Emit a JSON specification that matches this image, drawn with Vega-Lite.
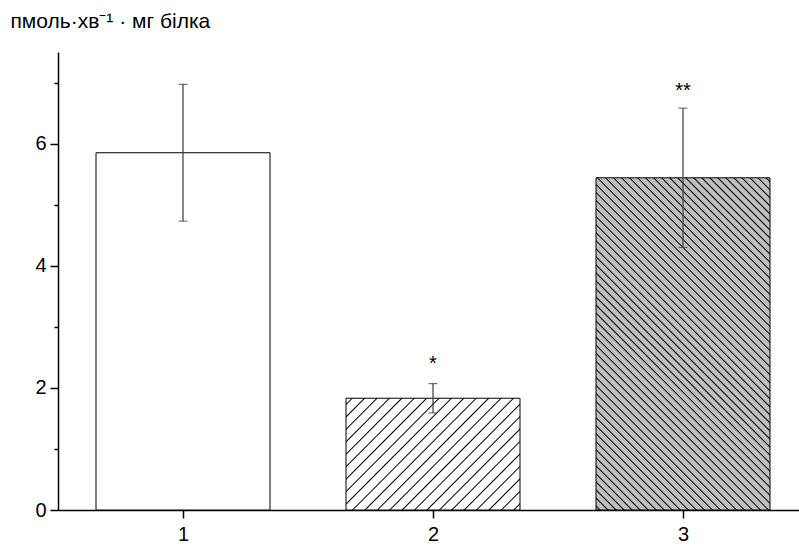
{
  "$schema": "https://vega.github.io/schema/vega-lite/v6.json",
  "width": 741,
  "height": 458,
  "autosize": {"type": "none"},
  "padding": {"left": 58, "top": 52, "right": 0, "bottom": 40},
  "background": "white",
  "config": {"view": {"stroke": null}, "font": "Liberation Sans"},
  "data": {"values": [
    {"group": 1, "mean": 5.85, "lo": 4.73, "hi": 6.97, "star": null, "starY": null},
    {"group": 2, "mean": 1.83, "lo": 1.59, "hi": 2.07, "star": "*", "starY": 2.3},
    {"group": 3, "mean": 5.44, "lo": 4.30, "hi": 6.58, "star": "**", "starY": 6.76}
  ]},
  "encoding": {
    "x": {"field": "group", "type": "quantitative", "scale": {"domain": [0.5, 3.464], "nice": false, "zero": false, "padding": 0},
      "axis": {"values": [1, 2, 3], "format": "d", "title": null, "grid": false, "tickSize": 8, "labelPadding": 6, "labelFontSize": 20, "labelColor": "black", "labelFont": "Liberation Sans", "domainColor": "black", "domainWidth": 1.5, "tickColor": "black", "tickWidth": 1.5}}
  },
  "layer": [
    {
      "transform": [{"filter": "datum.group == 1"}],
      "mark": {"type": "bar", "width": 174, "fill": "white", "stroke": "black", "strokeWidth": 1},
      "encoding": {
        "y": {"field": "mean", "type": "quantitative", "scale": {"domain": [0, 7.5], "nice": false},
          "axis": {"values": [0, 1, 2, 3, 4, 5, 6, 7], "format": "d", "labelExpr": "datum.value % 2 == 0 ? datum.label : ''",
            "tickSize": {"condition": {"test": "datum.value % 2 == 1", "value": 4}, "value": 8},
            "grid": false, "domainColor": "black", "domainWidth": 1.5, "tickColor": "black", "tickWidth": 1.5,
            "labelFontSize": 20, "labelColor": "black", "labelPadding": 4, "labelFont": "Liberation Sans",
            "title": "пмоль·хв⁻¹ · мг білка", "titleAngle": 0, "titleAlign": "left", "titleBaseline": "alphabetic",
            "titleX": -48, "titleY": -25, "titleFontSize": 21, "titleFontWeight": "normal", "titleColor": "black", "titleFont": "Liberation Sans"}}
      }
    },
    {
      "transform": [{"filter": "datum.group == 2"}],
      "mark": {"type": "bar", "width": 174, "stroke": "black", "strokeWidth": 1,
        "fill": {"gradient": "linear", "x1": 0, "y1": 0, "x2": 1.1636, "y2": 0.7443, "stops": [
          {"offset": 0.01674, "color": "#fff"}, {"offset": 0.02174, "color": "#000"}, {"offset": 0.02674, "color": "#fff"},
          {"offset": 0.06022, "color": "#fff"}, {"offset": 0.06522, "color": "#000"}, {"offset": 0.07022, "color": "#fff"},
          {"offset": 0.10370, "color": "#fff"}, {"offset": 0.10870, "color": "#000"}, {"offset": 0.11370, "color": "#fff"},
          {"offset": 0.14717, "color": "#fff"}, {"offset": 0.15217, "color": "#000"}, {"offset": 0.15717, "color": "#fff"},
          {"offset": 0.19065, "color": "#fff"}, {"offset": 0.19565, "color": "#000"}, {"offset": 0.20065, "color": "#fff"},
          {"offset": 0.23413, "color": "#fff"}, {"offset": 0.23913, "color": "#000"}, {"offset": 0.24413, "color": "#fff"},
          {"offset": 0.27761, "color": "#fff"}, {"offset": 0.28261, "color": "#000"}, {"offset": 0.28761, "color": "#fff"},
          {"offset": 0.32109, "color": "#fff"}, {"offset": 0.32609, "color": "#000"}, {"offset": 0.33109, "color": "#fff"},
          {"offset": 0.36457, "color": "#fff"}, {"offset": 0.36957, "color": "#000"}, {"offset": 0.37457, "color": "#fff"},
          {"offset": 0.40804, "color": "#fff"}, {"offset": 0.41304, "color": "#000"}, {"offset": 0.41804, "color": "#fff"},
          {"offset": 0.45152, "color": "#fff"}, {"offset": 0.45652, "color": "#000"}, {"offset": 0.46152, "color": "#fff"},
          {"offset": 0.49500, "color": "#fff"}, {"offset": 0.50000, "color": "#000"}, {"offset": 0.50500, "color": "#fff"},
          {"offset": 0.53848, "color": "#fff"}, {"offset": 0.54348, "color": "#000"}, {"offset": 0.54848, "color": "#fff"},
          {"offset": 0.58196, "color": "#fff"}, {"offset": 0.58696, "color": "#000"}, {"offset": 0.59196, "color": "#fff"},
          {"offset": 0.62543, "color": "#fff"}, {"offset": 0.63043, "color": "#000"}, {"offset": 0.63543, "color": "#fff"},
          {"offset": 0.66891, "color": "#fff"}, {"offset": 0.67391, "color": "#000"}, {"offset": 0.67891, "color": "#fff"},
          {"offset": 0.71239, "color": "#fff"}, {"offset": 0.71739, "color": "#000"}, {"offset": 0.72239, "color": "#fff"},
          {"offset": 0.75587, "color": "#fff"}, {"offset": 0.76087, "color": "#000"}, {"offset": 0.76587, "color": "#fff"},
          {"offset": 0.79935, "color": "#fff"}, {"offset": 0.80435, "color": "#000"}, {"offset": 0.80935, "color": "#fff"},
          {"offset": 0.84283, "color": "#fff"}, {"offset": 0.84783, "color": "#000"}, {"offset": 0.85283, "color": "#fff"},
          {"offset": 0.88630, "color": "#fff"}, {"offset": 0.89130, "color": "#000"}, {"offset": 0.89630, "color": "#fff"},
          {"offset": 0.92978, "color": "#fff"}, {"offset": 0.93478, "color": "#000"}, {"offset": 0.93978, "color": "#fff"},
          {"offset": 0.97326, "color": "#fff"}, {"offset": 0.97826, "color": "#000"}, {"offset": 0.98326, "color": "#fff"}
        ]}},
      "encoding": {
        "y": {"field": "mean", "type": "quantitative", "title": "пмоль·хв⁻¹ · мг білка"}
      }
    },
    {
      "transform": [{"filter": "datum.group == 3"}],
      "mark": {"type": "bar", "width": 174, "stroke": "black", "strokeWidth": 1,
        "fill": {"gradient": "linear", "x1": 0, "y1": 1, "x2": 0.6272, "y2": -0.1956, "stops": [
          {"offset": 0.00514, "color": "#c0c0c0"}, {"offset": 0.00794, "color": "#000"}, {"offset": 0.01074, "color": "#c0c0c0"},
          {"offset": 0.02101, "color": "#c0c0c0"}, {"offset": 0.02381, "color": "#000"}, {"offset": 0.02661, "color": "#c0c0c0"},
          {"offset": 0.03688, "color": "#c0c0c0"}, {"offset": 0.03968, "color": "#000"}, {"offset": 0.04248, "color": "#c0c0c0"},
          {"offset": 0.05276, "color": "#c0c0c0"}, {"offset": 0.05556, "color": "#000"}, {"offset": 0.05836, "color": "#c0c0c0"},
          {"offset": 0.06863, "color": "#c0c0c0"}, {"offset": 0.07143, "color": "#000"}, {"offset": 0.07423, "color": "#c0c0c0"},
          {"offset": 0.08450, "color": "#c0c0c0"}, {"offset": 0.08730, "color": "#000"}, {"offset": 0.09010, "color": "#c0c0c0"},
          {"offset": 0.10037, "color": "#c0c0c0"}, {"offset": 0.10317, "color": "#000"}, {"offset": 0.10597, "color": "#c0c0c0"},
          {"offset": 0.11625, "color": "#c0c0c0"}, {"offset": 0.11905, "color": "#000"}, {"offset": 0.12185, "color": "#c0c0c0"},
          {"offset": 0.13212, "color": "#c0c0c0"}, {"offset": 0.13492, "color": "#000"}, {"offset": 0.13772, "color": "#c0c0c0"},
          {"offset": 0.14799, "color": "#c0c0c0"}, {"offset": 0.15079, "color": "#000"}, {"offset": 0.15359, "color": "#c0c0c0"},
          {"offset": 0.16387, "color": "#c0c0c0"}, {"offset": 0.16667, "color": "#000"}, {"offset": 0.16947, "color": "#c0c0c0"},
          {"offset": 0.17974, "color": "#c0c0c0"}, {"offset": 0.18254, "color": "#000"}, {"offset": 0.18534, "color": "#c0c0c0"},
          {"offset": 0.19561, "color": "#c0c0c0"}, {"offset": 0.19841, "color": "#000"}, {"offset": 0.20121, "color": "#c0c0c0"},
          {"offset": 0.21149, "color": "#c0c0c0"}, {"offset": 0.21429, "color": "#000"}, {"offset": 0.21709, "color": "#c0c0c0"},
          {"offset": 0.22736, "color": "#c0c0c0"}, {"offset": 0.23016, "color": "#000"}, {"offset": 0.23296, "color": "#c0c0c0"},
          {"offset": 0.24323, "color": "#c0c0c0"}, {"offset": 0.24603, "color": "#000"}, {"offset": 0.24883, "color": "#c0c0c0"},
          {"offset": 0.25910, "color": "#c0c0c0"}, {"offset": 0.26190, "color": "#000"}, {"offset": 0.26470, "color": "#c0c0c0"},
          {"offset": 0.27498, "color": "#c0c0c0"}, {"offset": 0.27778, "color": "#000"}, {"offset": 0.28058, "color": "#c0c0c0"},
          {"offset": 0.29085, "color": "#c0c0c0"}, {"offset": 0.29365, "color": "#000"}, {"offset": 0.29645, "color": "#c0c0c0"},
          {"offset": 0.30672, "color": "#c0c0c0"}, {"offset": 0.30952, "color": "#000"}, {"offset": 0.31232, "color": "#c0c0c0"},
          {"offset": 0.32260, "color": "#c0c0c0"}, {"offset": 0.32540, "color": "#000"}, {"offset": 0.32820, "color": "#c0c0c0"},
          {"offset": 0.33847, "color": "#c0c0c0"}, {"offset": 0.34127, "color": "#000"}, {"offset": 0.34407, "color": "#c0c0c0"},
          {"offset": 0.35434, "color": "#c0c0c0"}, {"offset": 0.35714, "color": "#000"}, {"offset": 0.35994, "color": "#c0c0c0"},
          {"offset": 0.37022, "color": "#c0c0c0"}, {"offset": 0.37302, "color": "#000"}, {"offset": 0.37582, "color": "#c0c0c0"},
          {"offset": 0.38609, "color": "#c0c0c0"}, {"offset": 0.38889, "color": "#000"}, {"offset": 0.39169, "color": "#c0c0c0"},
          {"offset": 0.40196, "color": "#c0c0c0"}, {"offset": 0.40476, "color": "#000"}, {"offset": 0.40756, "color": "#c0c0c0"},
          {"offset": 0.41783, "color": "#c0c0c0"}, {"offset": 0.42063, "color": "#000"}, {"offset": 0.42343, "color": "#c0c0c0"},
          {"offset": 0.43371, "color": "#c0c0c0"}, {"offset": 0.43651, "color": "#000"}, {"offset": 0.43931, "color": "#c0c0c0"},
          {"offset": 0.44958, "color": "#c0c0c0"}, {"offset": 0.45238, "color": "#000"}, {"offset": 0.45518, "color": "#c0c0c0"},
          {"offset": 0.46545, "color": "#c0c0c0"}, {"offset": 0.46825, "color": "#000"}, {"offset": 0.47105, "color": "#c0c0c0"},
          {"offset": 0.48133, "color": "#c0c0c0"}, {"offset": 0.48413, "color": "#000"}, {"offset": 0.48693, "color": "#c0c0c0"},
          {"offset": 0.49720, "color": "#c0c0c0"}, {"offset": 0.50000, "color": "#000"}, {"offset": 0.50280, "color": "#c0c0c0"},
          {"offset": 0.51307, "color": "#c0c0c0"}, {"offset": 0.51587, "color": "#000"}, {"offset": 0.51867, "color": "#c0c0c0"},
          {"offset": 0.52895, "color": "#c0c0c0"}, {"offset": 0.53175, "color": "#000"}, {"offset": 0.53455, "color": "#c0c0c0"},
          {"offset": 0.54482, "color": "#c0c0c0"}, {"offset": 0.54762, "color": "#000"}, {"offset": 0.55042, "color": "#c0c0c0"},
          {"offset": 0.56069, "color": "#c0c0c0"}, {"offset": 0.56349, "color": "#000"}, {"offset": 0.56629, "color": "#c0c0c0"},
          {"offset": 0.57657, "color": "#c0c0c0"}, {"offset": 0.57937, "color": "#000"}, {"offset": 0.58217, "color": "#c0c0c0"},
          {"offset": 0.59244, "color": "#c0c0c0"}, {"offset": 0.59524, "color": "#000"}, {"offset": 0.59804, "color": "#c0c0c0"},
          {"offset": 0.60831, "color": "#c0c0c0"}, {"offset": 0.61111, "color": "#000"}, {"offset": 0.61391, "color": "#c0c0c0"},
          {"offset": 0.62418, "color": "#c0c0c0"}, {"offset": 0.62698, "color": "#000"}, {"offset": 0.62978, "color": "#c0c0c0"},
          {"offset": 0.64006, "color": "#c0c0c0"}, {"offset": 0.64286, "color": "#000"}, {"offset": 0.64566, "color": "#c0c0c0"},
          {"offset": 0.65593, "color": "#c0c0c0"}, {"offset": 0.65873, "color": "#000"}, {"offset": 0.66153, "color": "#c0c0c0"},
          {"offset": 0.67180, "color": "#c0c0c0"}, {"offset": 0.67460, "color": "#000"}, {"offset": 0.67740, "color": "#c0c0c0"},
          {"offset": 0.68768, "color": "#c0c0c0"}, {"offset": 0.69048, "color": "#000"}, {"offset": 0.69328, "color": "#c0c0c0"},
          {"offset": 0.70355, "color": "#c0c0c0"}, {"offset": 0.70635, "color": "#000"}, {"offset": 0.70915, "color": "#c0c0c0"},
          {"offset": 0.71942, "color": "#c0c0c0"}, {"offset": 0.72222, "color": "#000"}, {"offset": 0.72502, "color": "#c0c0c0"},
          {"offset": 0.73530, "color": "#c0c0c0"}, {"offset": 0.73810, "color": "#000"}, {"offset": 0.74090, "color": "#c0c0c0"},
          {"offset": 0.75117, "color": "#c0c0c0"}, {"offset": 0.75397, "color": "#000"}, {"offset": 0.75677, "color": "#c0c0c0"},
          {"offset": 0.76704, "color": "#c0c0c0"}, {"offset": 0.76984, "color": "#000"}, {"offset": 0.77264, "color": "#c0c0c0"},
          {"offset": 0.78291, "color": "#c0c0c0"}, {"offset": 0.78571, "color": "#000"}, {"offset": 0.78851, "color": "#c0c0c0"},
          {"offset": 0.79879, "color": "#c0c0c0"}, {"offset": 0.80159, "color": "#000"}, {"offset": 0.80439, "color": "#c0c0c0"},
          {"offset": 0.81466, "color": "#c0c0c0"}, {"offset": 0.81746, "color": "#000"}, {"offset": 0.82026, "color": "#c0c0c0"},
          {"offset": 0.83053, "color": "#c0c0c0"}, {"offset": 0.83333, "color": "#000"}, {"offset": 0.83613, "color": "#c0c0c0"},
          {"offset": 0.84641, "color": "#c0c0c0"}, {"offset": 0.84921, "color": "#000"}, {"offset": 0.85201, "color": "#c0c0c0"},
          {"offset": 0.86228, "color": "#c0c0c0"}, {"offset": 0.86508, "color": "#000"}, {"offset": 0.86788, "color": "#c0c0c0"},
          {"offset": 0.87815, "color": "#c0c0c0"}, {"offset": 0.88095, "color": "#000"}, {"offset": 0.88375, "color": "#c0c0c0"},
          {"offset": 0.89403, "color": "#c0c0c0"}, {"offset": 0.89683, "color": "#000"}, {"offset": 0.89963, "color": "#c0c0c0"},
          {"offset": 0.90990, "color": "#c0c0c0"}, {"offset": 0.91270, "color": "#000"}, {"offset": 0.91550, "color": "#c0c0c0"},
          {"offset": 0.92577, "color": "#c0c0c0"}, {"offset": 0.92857, "color": "#000"}, {"offset": 0.93137, "color": "#c0c0c0"},
          {"offset": 0.94164, "color": "#c0c0c0"}, {"offset": 0.94444, "color": "#000"}, {"offset": 0.94724, "color": "#c0c0c0"},
          {"offset": 0.95752, "color": "#c0c0c0"}, {"offset": 0.96032, "color": "#000"}, {"offset": 0.96312, "color": "#c0c0c0"},
          {"offset": 0.97339, "color": "#c0c0c0"}, {"offset": 0.97619, "color": "#000"}, {"offset": 0.97899, "color": "#c0c0c0"},
          {"offset": 0.98926, "color": "#c0c0c0"}, {"offset": 0.99206, "color": "#000"}, {"offset": 0.99486, "color": "#c0c0c0"}
        ]}},
      "encoding": {
        "y": {"field": "mean", "type": "quantitative", "title": "пмоль·хв⁻¹ · мг білка"}
      }
    },
    {
      "mark": {"type": "rule", "color": "#3a3a3a", "strokeWidth": 1.2},
      "encoding": {
        "y": {"field": "lo", "type": "quantitative", "title": "пмоль·хв⁻¹ · мг білка"},
        "y2": {"field": "hi"}
      }
    },
    {
      "mark": {"type": "tick", "orient": "horizontal", "color": "#3a3a3a", "size": 9, "thickness": 1.2},
      "encoding": {
        "y": {"field": "hi", "type": "quantitative", "title": "пмоль·хв⁻¹ · мг білка"}
      }
    },
    {
      "mark": {"type": "tick", "orient": "horizontal", "color": "#3a3a3a", "size": 9, "thickness": 1.2},
      "encoding": {
        "y": {"field": "lo", "type": "quantitative", "title": "пмоль·хв⁻¹ · мг білка"}
      }
    },
    {
      "transform": [{"filter": "datum.star != null"}],
      "mark": {"type": "text", "fontSize": 20, "font": "Liberation Sans", "baseline": "alphabetic", "align": "center", "color": "black"},
      "encoding": {
        "y": {"field": "starY", "type": "quantitative", "title": "пмоль·хв⁻¹ · мг білка"},
        "text": {"field": "star"}
      }
    }
  ]
}
